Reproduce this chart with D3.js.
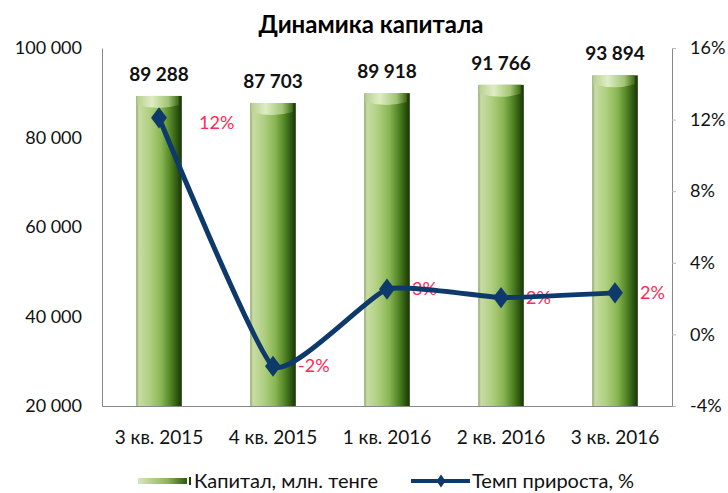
<!DOCTYPE html>
<html>
<head>
<meta charset="utf-8">
<script src="https://cdn.jsdelivr.net/npm/d3@7"></script>
<style>
  body { margin: 0; background: #fff; }
  text { font-family: Lato, "Open Sans", sans-serif; }
</style>
</head>
<body>
<div id="chart"></div>
<script>
// data
var quarters = ["3 кв. 2015", "4 кв. 2015", "1 кв. 2016", "2 кв. 2016", "3 кв. 2016"];
var capital = [89288, 87703, 89918, 91766, 93894];
var growth = [12.1, -1.78, 2.53, 2.06, 2.32];
var growthLabels = ["12%", "-2%", "3%", "2%", "2%"];
var leftTicks = [20000, 40000, 60000, 80000, 100000];
var rightTicks = [-4, 0, 4, 8, 12, 16];

var W = 728, H = 493;
var margin = {top: 48, right: 56, bottom: 87, left: 102},
  width = W - margin.left - margin.right,
  height = H - margin.top - margin.bottom;

var svg = d3.select("#chart")
  .append("svg")
    .attr("width", W)
    .attr("height", H);

// gradients for the bars
var defs = svg.append("defs");
var grad = defs.append("linearGradient").attr("id", "barGrad")
  .attr("x1", "0%").attr("x2", "100%").attr("y1", "0%").attr("y2", "0%");
[["0%", "#8ea56c"], ["6%", "#c8dca4"], ["30%", "#b0cf80"], ["55%", "#8ab653"],
 ["78%", "#4b7d1f"], ["100%", "#173507"]].forEach(function(s) {
  grad.append("stop").attr("offset", s[0]).attr("stop-color", s[1]);
});
var capGrad = defs.append("linearGradient").attr("id", "capGrad")
  .attr("x1", "0%").attr("x2", "100%");
[["0%", "#b7cf8f"], ["35%", "#e4f0cc"], ["75%", "#a9c97a"], ["100%", "#3d6b18"]].forEach(function(s) {
  capGrad.append("stop").attr("offset", s[0]).attr("stop-color", s[1]);
});

var g = svg.append("g")
  .attr("transform", "translate(" + margin.left + "," + margin.top + ")");

// scales
var x = d3.scaleBand()
  .range([0, width])
  .domain(quarters)
  .padding(0);
var barW = x.bandwidth() * 0.4;

var y = d3.scaleLinear()
  .range([height, 0])
  .domain([20000, 100000]);

var y2 = d3.scaleLinear()
  .range([height, 0])
  .domain([-4, 16]);

// title
svg.append("text")
  .attr("x", 371).attr("y", 33)
  .attr("text-anchor", "middle")
  .style("font-weight", "bold")
  .style("font-size", "24px")
  .text("Динамика капитала");

// left axis
var fmt = function(d) { return d3.format(",")(d).replace(/,/g, " "); };
var yAxis = g.append("g")
  .call(d3.axisLeft(y).tickValues(leftTicks).tickFormat(fmt).tickSize(0).tickPadding(20));
yAxis.select(".domain").attr("stroke", "#888");
yAxis.selectAll("text").style("font-size", "18px").style("font-family", "Lato, sans-serif").attr("fill", "#111");

// right axis
var y2Axis = g.append("g")
  .attr("transform", "translate(" + width + ",0)")
  .call(d3.axisRight(y2).tickValues(rightTicks).tickFormat(function(d) { return d + "%"; })
    .tickSize(4).tickSizeOuter(0).tickPadding(14));
y2Axis.select(".domain").attr("stroke", "#888");
y2Axis.selectAll("line").attr("stroke", "#bbb");
y2Axis.selectAll("text").style("font-size", "18px").style("font-family", "Lato, sans-serif").attr("fill", "#111");

// bottom axis
var xAxis = g.append("g")
  .attr("transform", "translate(0," + height + ")")
  .call(d3.axisBottom(x).tickSize(0).tickPadding(25));
xAxis.select(".domain").attr("stroke", "#888");
xAxis.selectAll("text").style("font-size", "19px").style("font-family", "Lato, sans-serif").attr("fill", "#111");

// bars
var bars = g.selectAll(".bar")
  .data(capital)
  .enter().append("g")
  .attr("class", "bar")
  .attr("transform", function(d, i) {
    return "translate(" + (x(quarters[i]) + (x.bandwidth() - barW) / 2) + ",0)";
  });

bars.append("rect")
  .attr("x", 0)
  .attr("y", function(d) { return y(d); })
  .attr("width", barW)
  .attr("height", function(d) { return height - y(d); })
  .attr("fill", "url(#barGrad)");

bars.append("path")
  .attr("d", function(d) {
    var t = y(d);
    return "M1," + t + "H" + (barW - 3) + "V" + (t + 9) +
      "Q" + (barW / 2) + "," + (t + 15) + " 1," + (t + 9) + "Z";
  })
  .attr("fill", "url(#capGrad)")
  .attr("opacity", 0.9);

// value labels
g.selectAll(".val")
  .data(capital)
  .enter().append("text")
  .attr("x", function(d, i) { return x(quarters[i]) + x.bandwidth() / 2; })
  .attr("y", function(d) { return y(d) - 15; })
  .attr("text-anchor", "middle")
  .style("font-weight", "bold")
  .style("font-size", "19px")
  .attr("fill", "#111")
  .text(function(d) { return fmt(d); });

// growth labels (drawn under the line)
g.selectAll(".pct")
  .data(growth)
  .enter().append("text")
  .attr("x", function(d, i) { return x(quarters[i]) + x.bandwidth() / 2 + (i === 0 ? 40 : 25); })
  .attr("y", function(d, i) { return y2(d) + (i === 0 ? 11 : 6); })
  .style("font-size", "18px")
  .attr("fill", "#ff2a55")
  .text(function(d, i) { return growthLabels[i]; });

// growth line
var line = d3.line()
  .x(function(d, i) { return x(quarters[i]) + x.bandwidth() / 2; })
  .y(function(d) { return y2(d); })
  .curve(d3.curveCardinal.tension(0.55));

g.append("path")
  .datum(growth)
  .attr("d", line)
  .attr("fill", "none")
  .attr("stroke", "#0d3a6b")
  .attr("stroke-width", 5);

var diamond = d3.symbol().type(d3.symbolDiamond).size(130);
g.selectAll(".pt")
  .data(growth)
  .enter().append("path")
  .attr("d", diamond)
  .attr("transform", function(d, i) {
    return "translate(" + (x(quarters[i]) + x.bandwidth() / 2) + "," + y2(d) + ") scale(1.3,1)";
  })
  .attr("fill", "#0d3a6b");

// legend
var legend = svg.append("g").attr("transform", "translate(0,481)");
var lg = defs.append("linearGradient").attr("id", "legGrad")
  .attr("x1", "0%").attr("x2", "100%");
[["0%", "#d8e6c0"], ["60%", "#8fb55a"], ["100%", "#2d5a10"]].forEach(function(s) {
  lg.append("stop").attr("offset", s[0]).attr("stop-color", s[1]);
});
legend.append("rect")
  .attr("x", 138).attr("y", -3).attr("width", 49).attr("height", 6)
  .attr("fill", "url(#legGrad)");
legend.append("rect")
  .attr("x", 189).attr("y", -4).attr("width", 2).attr("height", 8)
  .attr("fill", "#1d3d08");
legend.append("text")
  .attr("x", 194).attr("y", 7)
  .style("font-size", "20px").attr("fill", "#111")
  .text("Капитал, млн. тенге");

legend.append("line")
  .attr("x1", 411).attr("x2", 470).attr("y1", 0).attr("y2", 0)
  .attr("stroke", "#0d3a6b").attr("stroke-width", 4);
legend.append("path")
  .attr("d", d3.symbol().type(d3.symbolDiamond).size(50))
  .attr("transform", "translate(441,0) scale(1.2,1)")
  .attr("fill", "#0d3a6b");
legend.append("text")
  .attr("x", 472).attr("y", 7)
  .style("font-size", "20px").attr("fill", "#111")
  .text("Темп прироста, %");
</script>
</body>
</html>
